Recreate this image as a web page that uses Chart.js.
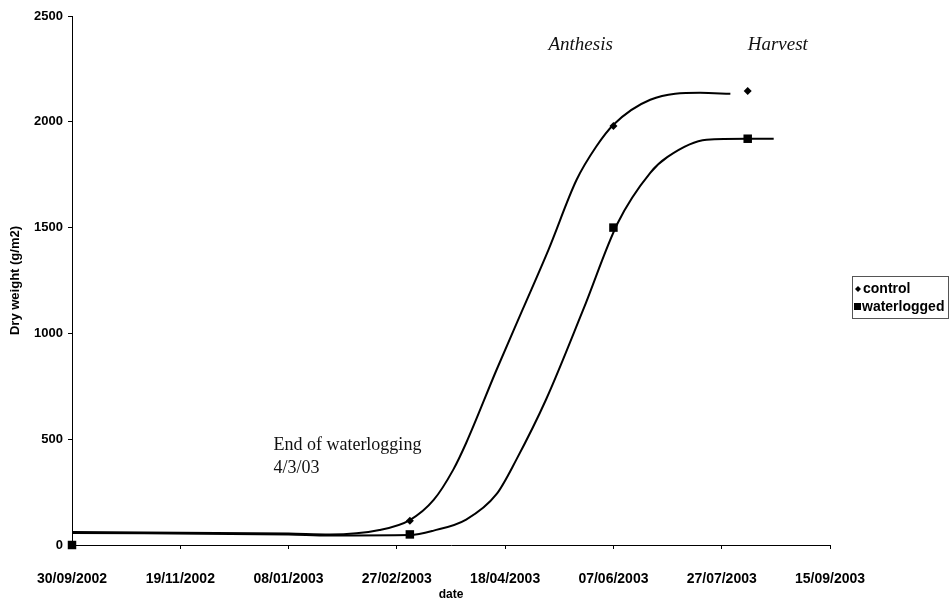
<!DOCTYPE html>
<html>
<head>
<meta charset="utf-8">
<script src="https://cdn.jsdelivr.net/npm/chart.js@4.4.1/dist/chart.umd.min.js"></script>
<style>
  body { margin: 0; background: #fff; }
  #wrap { width: 952px; height: 602px; }
</style>
</head>
<body>
<div id="wrap"><canvas id="growth" width="952" height="602"></canvas></div>
<script>
// measured points (dd/mm/yyyy)
const sampleDates = ['30/09/2002', '05/03/2003', '07/06/2003', '08/08/2003'];
const controlValues = [0, 115, 1980, 2145];
const waterloggedValues = [0, 50, 1500, 1920];

// fitted curves
const controlCurveDates = ['30/09/2002', '08/01/2003', '27/01/2003', '19/02/2003', '05/03/2003', '16/03/2003',
    '25/03/2003', '31/03/2003', '14/04/2003', '26/04/2003', '08/05/2003', '21/05/2003', '30/05/2003',
    '07/06/2003', '24/06/2003', '17/07/2003', '31/07/2003'];
const controlCurveValues = [61, 54, 50, 71, 118, 213, 355, 482, 827, 1111, 1395, 1726, 1882, 1986, 2104, 2137, 2132];

const waterCurveDates = ['30/09/2002', '08/01/2003', '27/01/2003', '05/03/2003', '16/03/2003', '31/03/2003',
    '14/04/2003', '23/04/2003', '07/05/2003', '24/05/2003', '09/06/2003', '24/06/2003', '02/07/2003',
    '20/07/2003', '08/08/2003', '20/08/2003'];
const waterCurveValues = [57, 50, 45, 47, 68, 120, 240, 400, 690, 1111, 1522, 1759, 1834, 1915, 1920, 1920];

const xStart = '30/09/2002';
const xSpanDays = 350;
const xStepDays = 50;
const yMax = 2500;
const yStep = 500;

const DAY = 86400000;
const startMs = parseDate(xStart);

function parseDate(s) {
    const [d, m, y] = s.split('/').map(Number);
    return Date.UTC(y, m - 1, d);
}
function toDay(s) {
    return Math.round((parseDate(s) - startMs) / DAY);
}
function fmtDay(v) {
    const dt = new Date(startMs + v * DAY);
    const p = n => String(n).padStart(2, '0');
    return p(dt.getUTCDate()) + '/' + p(dt.getUTCMonth() + 1) + '/' + dt.getUTCFullYear();
}
function pts(dates, vals) {
    return dates.map((d, i) => ({ x: toDay(d), y: vals[i] }));
}

const sans = "'Liberation Sans', Arial, sans-serif";
const serif = "'Liberation Serif', 'Times New Roman', serif";

const notes = {
    id: 'notes',
    afterDraw(chart) {
        const ctx = chart.ctx;
        const xs = chart.scales.x, ys = chart.scales.y;
        ctx.save();
        ctx.fillStyle = '#111';
        ctx.textBaseline = 'middle';
        ctx.textAlign = 'left';
        ctx.font = '18px ' + serif;
        ctx.fillText('End of waterlogging', xs.getPixelForValue(toDay('01/01/2003')), ys.getPixelForValue(473));
        ctx.fillText('4/3/03', xs.getPixelForValue(toDay('01/01/2003')), ys.getPixelForValue(364));
        ctx.font = 'italic 19px ' + serif;
        ctx.fillText('Anthesis', xs.getPixelForValue(toDay('08/05/2003')), ys.getPixelForValue(2364));
        ctx.fillText('Harvest', xs.getPixelForValue(toDay('08/08/2003')), ys.getPixelForValue(2364));

        // legend box
        const bx = 852, by = 276, bw = 96, bh = 42;
        ctx.strokeStyle = '#555';
        ctx.lineWidth = 1;
        ctx.strokeRect(bx + 0.5, by + 0.5, bw, bh);
        ctx.font = 'bold 14px ' + sans;
        ctx.fillStyle = '#000';
        ctx.beginPath();
        ctx.moveTo(858, 289 - 3); ctx.lineTo(861, 289); ctx.lineTo(858, 289 + 3); ctx.lineTo(855, 289);
        ctx.closePath(); ctx.fill();
        ctx.fillText('control', 863, 289);
        ctx.fillRect(854, 303, 7, 7);
        ctx.fillText('waterlogged', 862, 307);
        ctx.restore();
    }
};

new Chart(document.getElementById('growth'), {
    type: 'scatter',
    data: {
        datasets: [
            {
                label: 'control fit',
                data: pts(controlCurveDates, controlCurveValues),
                showLine: true,
                borderColor: '#000',
                borderWidth: 2,
                pointRadius: 0,
                cubicInterpolationMode: 'monotone'
            },
            {
                label: 'waterlogged fit',
                data: pts(waterCurveDates, waterCurveValues),
                showLine: true,
                borderColor: '#000',
                borderWidth: 2,
                pointRadius: 0,
                cubicInterpolationMode: 'monotone'
            },
            {
                label: 'control',
                data: pts(sampleDates, controlValues),
                pointStyle: 'rectRot',
                pointRadius: 4,
                backgroundColor: '#000',
                borderColor: '#000',
                borderWidth: 0,
                clip: false
            },
            {
                label: 'waterlogged',
                data: pts(sampleDates, waterloggedValues),
                pointStyle: 'rect',
                pointRadius: 6,
                backgroundColor: '#000',
                borderColor: '#000',
                borderWidth: 0,
                clip: false
            }
        ]
    },
    plugins: [notes],
    options: {
        responsive: false,
        animation: false,
        layout: { padding: { left: 0, right: 122, top: 16, bottom: 0 } },
        plugins: {
            legend: { display: false },
            tooltip: { enabled: false }
        },
        scales: {
            x: {
                type: 'linear',
                min: 0,
                max: xSpanDays,
                afterFit(scale) { scale.height = 57; },
                grid: { display: true, drawOnChartArea: false, drawTicks: true, tickLength: 4, color: '#000' },
                border: { display: true, color: '#000', width: 1 },
                ticks: {
                    stepSize: xStepDays,
                    color: '#000',
                    padding: 22,
                    maxRotation: 0,
                    autoSkip: false,
                    font: { family: sans, size: 14, weight: 'bold' },
                    callback: v => fmtDay(v)
                },
                title: {
                    display: true,
                    text: 'date',
                    color: '#000',
                    padding: { top: 0, bottom: 0 },
                    font: { family: sans, size: 12, weight: 'bold' }
                }
            },
            y: {
                min: 0,
                max: yMax,
                afterFit(scale) { scale.width = 72; },
                grid: { display: true, drawOnChartArea: false, drawTicks: true, tickLength: 4, color: '#000' },
                border: { display: true, color: '#000', width: 1 },
                ticks: {
                    stepSize: yStep,
                    color: '#000',
                    padding: 5,
                    font: { family: sans, size: 13, weight: 'bold' },
                    callback: v => String(v)
                },
                title: {
                    display: true,
                    text: 'Dry weight (g/m2)',
                    color: '#000',
                    padding: { top: 8, bottom: 0 },
                    font: { family: sans, size: 13, weight: 'bold' }
                }
            }
        }
    }
});
</script>
</body>
</html>
